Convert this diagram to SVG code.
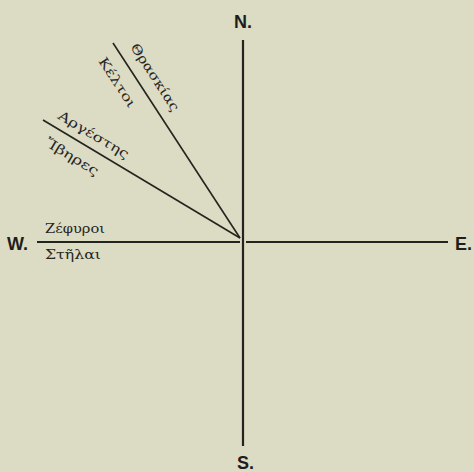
<svg xmlns="http://www.w3.org/2000/svg" width="474" height="472" viewBox="0 0 474 472">
<style>
.ln{stroke:#232320;fill:none;stroke-linecap:butt}
.main{stroke-width:2.2}
.diag{stroke-width:1.6}
.cmp{font-family:"Liberation Sans",Arial,sans-serif;font-weight:bold;font-size:18px;fill:#1e1e1c}
.gk{font-family:"DejaVu Serif","Liberation Serif",serif;font-size:13px;fill:#262623}
</style>
<rect width="474" height="472" fill="#dcdbc3"/>
<g id="connectors">
<line class="ln main" x1="243" y1="40" x2="243" y2="446"/>
<line class="ln main" x1="37" y1="242" x2="240" y2="242"/>
<line class="ln main" x1="246" y1="242" x2="448" y2="242"/>
<line class="ln diag" x1="113" y1="43" x2="240" y2="238"/>
<line class="ln diag" x1="43" y1="120" x2="240" y2="238"/>
</g>
<g id="N"><text class="cmp" x="234" y="28">N.</text></g>
<g id="S"><text class="cmp" x="237" y="469">S.</text></g>
<g id="E"><text class="cmp" x="455" y="250">E.</text></g>
<g id="W"><text class="cmp" x="7" y="250">W.</text></g>
<g id="thraskias"><text class="gk" transform="translate(130,47) rotate(56.9)" textLength="78" lengthAdjust="spacingAndGlyphs">Θρασκίας</text></g>
<g id="keltoi"><text class="gk" transform="translate(98,61) rotate(56.9)" textLength="57" lengthAdjust="spacingAndGlyphs">Κέλτοι</text></g>
<g id="argestes"><text class="gk" transform="translate(57,118) rotate(30.9)" textLength="80" lengthAdjust="spacingAndGlyphs">Αργέστης</text></g>
<g id="iberes"><text class="gk" transform="translate(44,145) rotate(30.9)" textLength="60" lengthAdjust="spacingAndGlyphs">Ἴβηρες</text></g>
<g id="zephyroi"><text class="gk" x="45" y="233" textLength="60" lengthAdjust="spacingAndGlyphs">Ζέφυροι</text></g>
<g id="stelai"><text class="gk" x="45" y="259" textLength="56" lengthAdjust="spacingAndGlyphs">Στῆλαι</text></g>
</svg>
